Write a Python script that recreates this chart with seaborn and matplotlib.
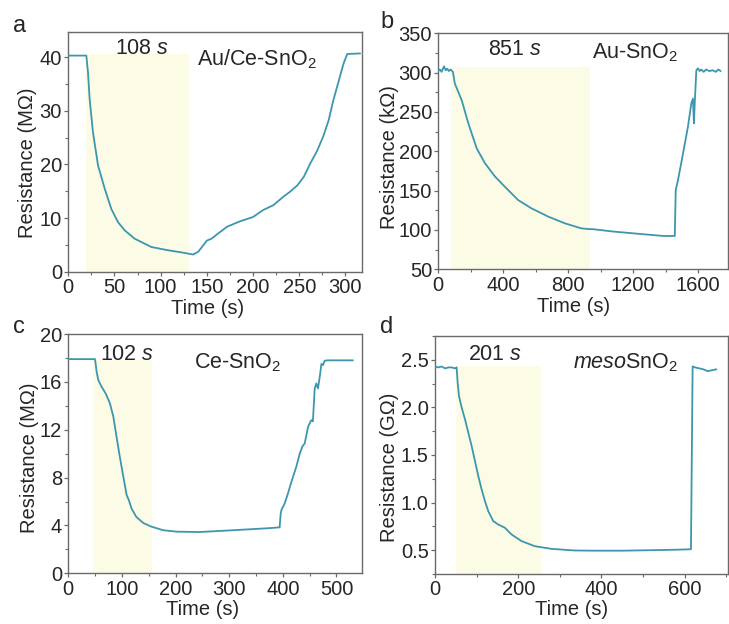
import matplotlib
matplotlib.use("Agg")
import matplotlib.pyplot as plt
import pandas as pd
import seaborn as sns
from matplotlib.ticker import MultipleLocator, FormatStrFormatter

# ---------------- data ----------------
a_time = [0, 19.5, 21.3, 23.1, 26.7, 32.2, 39.4, 46.6, 53.8, 61.1, 71.9, 90, 108, 126, 135,
          140.6, 146, 150, 155, 162, 172, 186, 200, 211, 222, 233, 240, 248, 255, 262, 269,
          276, 282, 287, 293, 298, 302, 316]
a_res = [40.3, 40.3, 37.2, 32.2, 26.0, 19.8, 15.5, 11.7, 9.25, 7.7, 6.15, 4.6, 4.0, 3.5, 3.2,
         3.7, 4.9, 5.8, 6.15, 7.1, 8.4, 9.4, 10.2, 11.5, 12.4, 14.0, 14.9, 16.1, 17.7, 20.2, 22.4,
         25.2, 28.3, 32.0, 35.7, 38.8, 40.6, 40.7]

b_time = [0, 10, 20, 35, 45, 55, 65, 75, 85, 90, 102, 144, 185, 236, 287, 349, 410, 492, 574,
          677, 779, 882, 935, 954, 1077, 1241, 1385, 1457, 1463, 1477, 1508, 1538, 1559, 1569,
          1575, 1580, 1590, 1600, 1610, 1620, 1635, 1650, 1670, 1690, 1710, 1725, 1740]
b_res = [302, 304, 301, 308, 303, 305, 302, 304, 302, 301, 286, 265, 235.6, 204, 185, 168, 155,
         138, 127.5, 117, 108.5, 102, 101, 101, 98, 95, 92.4, 92.4, 150.8, 163.5, 197.4, 231,
         261, 267, 235.6, 261, 303, 305.5, 302, 304, 301, 304, 302, 303, 301, 304, 302]

c_time = [0, 49.7, 51, 52.8, 55.9, 62, 70, 77.6, 83.9, 90, 96, 102.5, 108.7, 113, 118, 127, 140,
          155, 177, 202, 245, 307, 370, 394, 396, 397.4, 403.5, 409.7, 414.7, 419, 425, 431.5,
          436.5, 440.8, 447, 453, 456, 459.4, 462.5, 465.5, 468.7, 471.9, 474.9, 478, 484, 530.7]
c_res = [17.9, 17.9, 17.5, 16.85, 16.15, 15.6, 15.0, 14.2, 13.1, 11.4, 9.75, 8.1, 6.55, 6.1, 5.4,
         4.7, 4.2, 3.9, 3.6, 3.48, 3.45, 3.6, 3.76, 3.84, 5.0, 5.3, 5.85, 6.7, 7.46, 8.07, 8.9,
         10.0, 10.6, 10.86, 12.25, 12.8, 12.7, 15.45, 15.87, 15.45, 16.4, 17.5, 17.4, 17.77, 17.8,
         17.8]

d_time = [0, 8, 16, 24, 32, 40, 48, 52, 54.4, 57.6, 64, 72, 80, 88, 96, 104, 112, 120, 128, 140,
          152, 168, 184, 208, 240, 280, 336, 384, 450, 520, 580, 615, 619, 625, 635, 645, 655,
          665, 676]
d_res = [2.43, 2.42, 2.43, 2.41, 2.42, 2.42, 2.41, 2.42, 2.26, 2.12, 2.0, 1.876, 1.735, 1.595,
         1.437, 1.279, 1.139, 1.016, 0.91, 0.805, 0.77, 0.735, 0.665, 0.595, 0.542, 0.514, 0.497,
         0.495, 0.495, 0.5, 0.505, 0.51, 2.43, 2.42, 2.41, 2.40, 2.38, 2.39, 2.40]

# response window (start, end, top) for the shaded band
a_window = (19.5, 130.5, 40.6)
b_window = (78, 935, 307)
c_window = (45.3, 155.3, 17.8)
d_window = (49.6, 254.4, 2.43)

panel_letters = ["a", "b", "c", "d"]
resp_labels = ["108 $\\mathit{s}$", "851 $\\mathit{s}$", "102 $\\mathit{s}$", "201 $\\mathit{s}$"]
material_labels = ["Au/Ce-SnO$_2$", "Au-SnO$_2$", "Ce-SnO$_2$", "$\\mathit{meso}$SnO$_2$"]
y_labels = ["Resistance (M\u03a9)", "Resistance (k\u03a9)", "Resistance (M\u03a9)", "Resistance (G\u03a9)"]

# ---------------- style ----------------
sns.set_style("ticks")
plt.rcParams["font.family"] = ["Liberation Sans", "DejaVu Sans"]
plt.rcParams["mathtext.fontset"] = "custom"
plt.rcParams["mathtext.rm"] = "Liberation Sans"
plt.rcParams["mathtext.it"] = "Liberation Sans:italic"
plt.rcParams["mathtext.bf"] = "Liberation Sans:bold"

LINE = "#3c97ae"
SHADE = "#fcfce6"
SPINE = "#6a6a6a"
FS = 14.5

fig = plt.figure(figsize=(7.29, 6.24), dpi=100)
W, H = 729.0, 624.0
boxes = [  # left, top, right, bottom in pixels
    (68.3, 32.0, 362.0, 271.7),
    (438.3, 33.3, 728.0, 269.3),
    (68.3, 334.0, 361.7, 573.3),
    (435.0, 336.0, 728.0, 574.0),
]
axes = []
for (l, t, r, b) in boxes:
    axes.append(fig.add_axes([l / W, 1 - b / H, (r - l) / W, (b - t) / H]))

datasets = [(a_time, a_res), (b_time, b_res), (c_time, c_res), (d_time, d_res)]
windows = [a_window, b_window, c_window, d_window]
xlims = [(0, 318), (0, 1785), (0, 547), (0, 704)]
ylims = [(0, 44.7), (50, 350), (0, 20), (0.25, 2.75)]
xmaj = [50, 400, 100, 200]
xmin = [25, 200, 50, 100]
ymaj = [10, 50, 4, 0.5]
ymin = [5, 25, 2, 0.25]

resp_pos = [(0.25, 0.907), (0.264, 0.908), (0.199, 0.891), (0.2045, 0.899)]
mat_pos = [(0.4375, 0.861), (0.529, 0.894), (0.43, 0.857), (0.4716, 0.864)]
ylab_pos = [(-0.107, 0.453), (-0.135, 0.476), (-0.100, 0.484), (-0.122, 0.45)]
xlab_pos = [(0.475, -0.112), (0.468, -0.117), (0.456, -0.112), (0.466, -0.11)]
letter_pos = [(13, 32), (380, 28), (13, 333), (380, 333)]

for i, ax in enumerate(axes):
    t, r = datasets[i]
    df = pd.DataFrame({"Time (s)": t, "Resistance": r})
    x0, x1, top = windows[i]
    ax.fill_between([x0, x1], ylims[i][0], top, color=SHADE, lw=0, zorder=0)
    sns.lineplot(data=df, x="Time (s)", y="Resistance", ax=ax, color=LINE, lw=1.3,
                 estimator=None, sort=False, zorder=3)
    ax.set_xlim(*xlims[i])
    ax.set_ylim(*ylims[i])
    ax.xaxis.set_major_locator(MultipleLocator(xmaj[i]))
    ax.xaxis.set_minor_locator(MultipleLocator(xmin[i]))
    ax.yaxis.set_major_locator(MultipleLocator(ymaj[i]))
    ax.yaxis.set_minor_locator(MultipleLocator(ymin[i]))
    if i == 3:
        ax.yaxis.set_major_formatter(FormatStrFormatter("%.1f"))
    for s in ax.spines.values():
        s.set_visible(True)
        s.set_color(SPINE)
        s.set_linewidth(1.0)
    ax.tick_params(which="major", direction="out", length=3, width=0.9, color=SPINE,
                   labelsize=FS, pad=1.5, top=False, right=False)
    ax.tick_params(which="minor", direction="out", length=2, width=0.8, color=SPINE,
                   top=False, right=False)
    ax.set_xlabel("Time (s)", fontsize=FS)
    ax.set_ylabel(y_labels[i], fontsize=FS)
    ax.xaxis.set_label_coords(*xlab_pos[i])
    ax.yaxis.set_label_coords(*ylab_pos[i])
    ax.text(*resp_pos[i], resp_labels[i], transform=ax.transAxes, fontsize=15.5,
            ha="center", va="baseline")
    ax.text(*mat_pos[i], material_labels[i], transform=ax.transAxes, fontsize=15.5,
            ha="left", va="baseline")
    lx, ly = letter_pos[i]
    fig.text(lx / W, 1 - ly / H, panel_letters[i], fontsize=17, ha="left", va="baseline")

fig.savefig("out.png", dpi=100)
